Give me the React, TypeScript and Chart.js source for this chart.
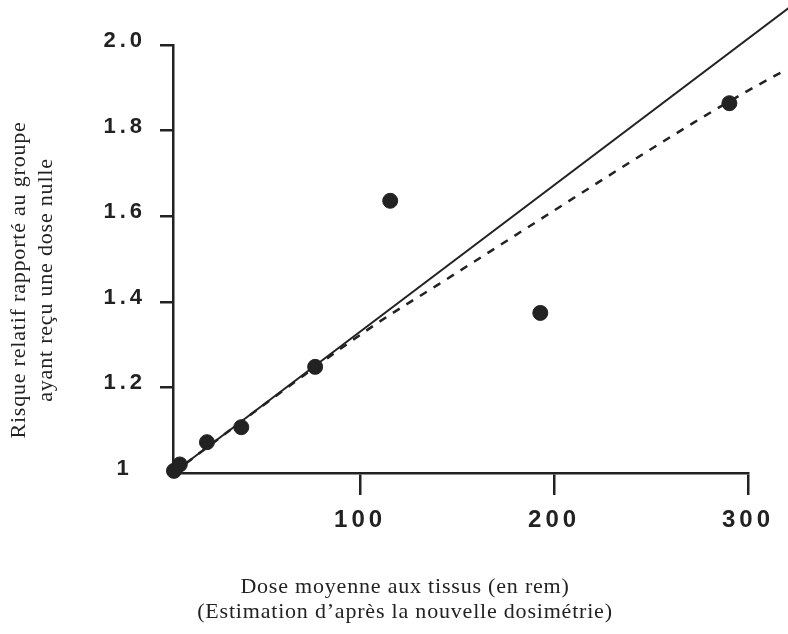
import React, { useEffect, useRef } from "react";
import { Chart, registerables } from "chart.js";

Chart.register(...registerables);

// Observed points (dose in rem, relative risk)
const doseValues = [4, 7, 21, 38.7, 76.8, 115.5, 192.9, 290.4];
const riskValues = [1.005, 1.02, 1.072, 1.107, 1.248, 1.636, 1.374, 1.864];

// Solid (linear) fit line endpoints
const linearDose = [3.5, 325];
const linearRisk = [1.0, 2.1];

// Dashed fit line
const dashedDose = [3.5, 69.1, 108.8, 139.8, 271.8, 296, 316.7, 322];
const dashedRisk = [1.0, 1.222, 1.35, 1.439, 1.818, 1.883, 1.935, 1.948];

const xTicks = [100, 200, 300];
const yTicks = [1, 1.2, 1.4, 1.6, 1.8, 2.0];
const yTickLabels = ["1", "1.2", "1.4", "1.6", "1.8", "2.0"];

const xTitleLines = [
  "Dose moyenne aux tissus (en rem)",
  "(Estimation d\u2019apr\u00e8s la nouvelle dosim\u00e9trie)",
];
const yTitleLines = [
  "Risque relatif rapport\u00e9 au groupe",
  "ayant re\u00e7u une dose nulle",
];

const INK = "#222";

export default function App() {
  const ref = useRef<HTMLCanvasElement | null>(null);

  useEffect(() => {
    const canvas = ref.current;
    if (!canvas) return;

    const titlesPlugin = {
      id: "titles",
      beforeDraw(chart: any) {
        (chart.ctx as any).letterSpacing = "4px";
      },
      afterDraw(chart: any) {
        const ctx = chart.ctx as any;
        ctx.save();
        ctx.letterSpacing = "0.8px";
        ctx.fillStyle = INK;
        ctx.font = '22px "Liberation Serif"';
        ctx.textAlign = "center";
        ctx.textBaseline = "middle";
        ctx.fillText(xTitleLines[0], 405, 587);
        ctx.fillText(xTitleLines[1], 405, 612);
        ctx.translate(19, 280);
        ctx.rotate(-Math.PI / 2);
        ctx.fillText(yTitleLines[0], 0, 0);
        ctx.fillText(yTitleLines[1], 0, 27);
        ctx.restore();
      },
    };

    const chart = new Chart(canvas, {
      type: "scatter",
      data: {
        datasets: [
          {
            label: "points",
            data: doseValues.map((x, i) => ({ x, y: riskValues[i] })),
            backgroundColor: INK,
            borderColor: INK,
            pointRadius: 7.5,
            pointHoverRadius: 7.5,
            showLine: false,
            clip: false as any,
          },
          {
            label: "linear",
            data: linearDose.map((x, i) => ({ x, y: linearRisk[i] })),
            borderColor: INK,
            borderWidth: 2,
            pointRadius: 0,
            showLine: true,
            clip: false as any,
          },
          {
            label: "dashed",
            data: dashedDose.map((x, i) => ({ x, y: dashedRisk[i] })),
            borderColor: INK,
            borderWidth: 2.5,
            borderDash: [8, 8],
            pointRadius: 0,
            showLine: true,
            cubicInterpolationMode: "monotone",
            clip: false as any,
          },
        ],
      },
      options: {
        animation: false,
        responsive: false,
        events: [],
        layout: { padding: { left: 0, top: 45, right: 40, bottom: 0 } },
        plugins: {
          legend: { display: false },
          tooltip: { enabled: false },
        },
        scales: {
          x: {
            type: "linear",
            min: 3.5,
            max: 300,
            afterBuildTicks: (scale: any) => {
              scale.ticks = xTicks.map((v) => ({ value: v }));
            },
            afterFit: (scale: any) => {
              scale.height = 634 - 473;
            },
            border: { display: true, color: INK, width: 2.5 },
            grid: {
              display: true,
              drawOnChartArea: false,
              drawTicks: true,
              tickLength: 22,
              color: INK,
              lineWidth: 2.5,
            },
            ticks: {
              color: INK,
              font: { family: '"Liberation Sans"', size: 24, weight: "bold" },
              padding: 11,
              maxRotation: 0,
              autoSkip: false,
              callback: (v: any) => String(v),
            },
            title: { display: false },
          },
          y: {
            type: "linear",
            min: 1,
            max: 2,
            afterBuildTicks: (scale: any) => {
              scale.ticks = yTicks.map((v) => ({ value: v }));
            },
            afterFit: (scale: any) => {
              scale.width = 173;
            },
            border: { display: true, color: INK, width: 2.5 },
            grid: {
              display: true,
              drawOnChartArea: false,
              drawTicks: true,
              tickLength: 13,
              color: (c: any) =>
                c.tick && c.tick.value === 1 ? "rgba(0,0,0,0)" : INK,
              lineWidth: 2.5,
            },
            ticks: {
              color: INK,
              font: { family: '"Liberation Sans"', size: 22, weight: "bold" },
              padding: 20,
              labelOffset: -4,
              crossAlign: "center",
              autoSkip: false,
              callback: (_v: any, i: number) => yTickLabels[i],
            },
            title: { display: false },
          },
        },
      },
      plugins: [titlesPlugin],
    } as any);

    return () => {
      chart.destroy();
    };
  }, []);

  return (
    <div
      style={{
        position: "fixed",
        left: 0,
        top: 0,
        width: 788,
        height: 634,
        background: "#fff",
      }}
    >
      <canvas ref={ref} width={788} height={634} />
    </div>
  );
}
